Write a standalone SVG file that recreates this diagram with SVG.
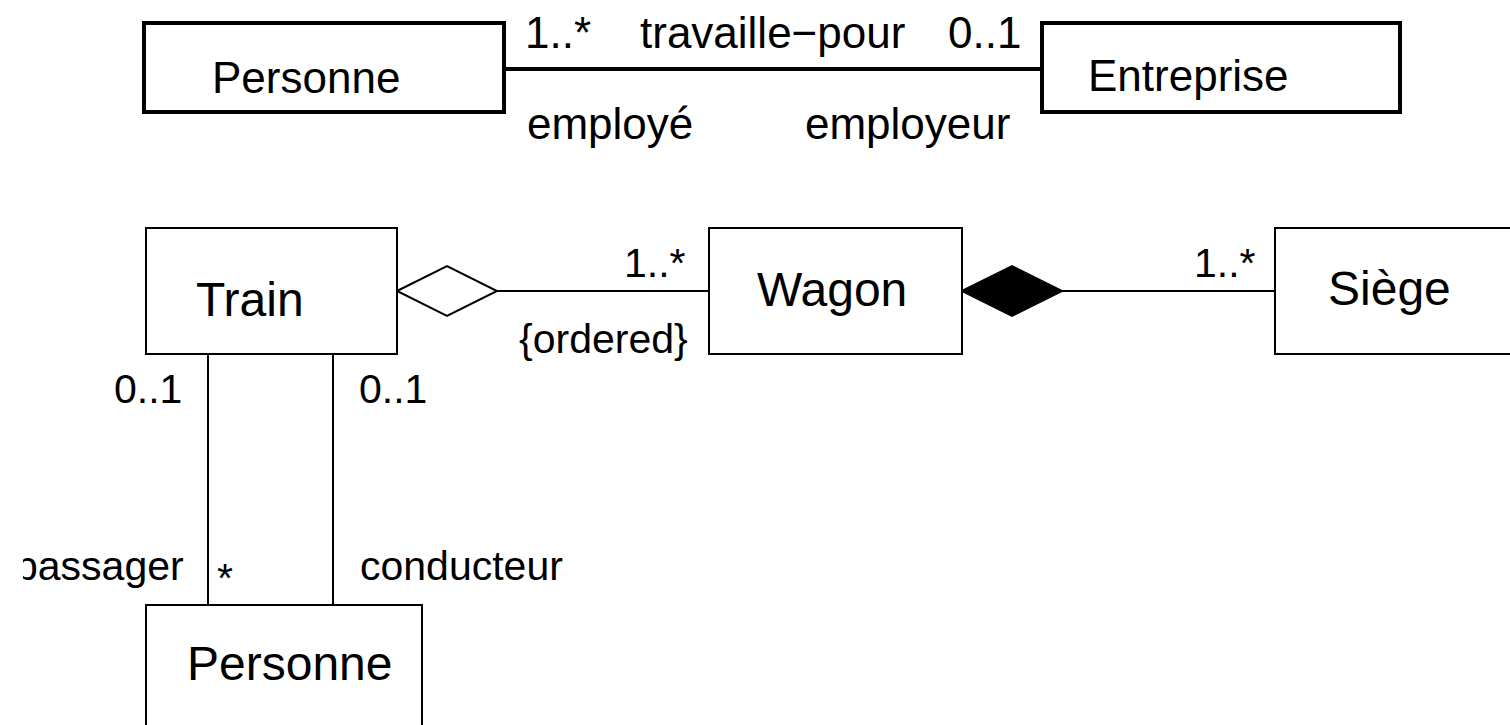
<svg xmlns="http://www.w3.org/2000/svg" width="1510" height="725" viewBox="0 0 1510 725">
  <style>
    text { font-family: "Liberation Sans", Arial, sans-serif; fill: #000; }
    .cls-top { font-size: 44px; }
    .lbl-top { font-size: 44px; }
    .cls { font-size: 48px; }
    .lbl { font-size: 41px; }
    .box-thick { fill: #fff; stroke: #000; stroke-width: 4; }
    .box { fill: #fff; stroke: #000; stroke-width: 2; }
    .line-thick { stroke: #000; stroke-width: 4; fill: none; }
    .line { stroke: #000; stroke-width: 2; fill: none; }
  </style>
  <defs>
    <clipPath id="leftclip">
      <rect x="23" y="0" width="1487" height="725"/>
    </clipPath>
  </defs>
  <rect width="1510" height="725" fill="#fff"/>

  <g id="connectors">
    <line class="line-thick" x1="504" y1="69" x2="1042" y2="69"/>
    <line class="line" x1="497" y1="291" x2="708" y2="291"/>
    <polygon points="397,291 447,266 497,291 447,316" fill="#fff" stroke="#000" stroke-width="2"/>
    <line class="line" x1="1062" y1="291" x2="1275" y2="291"/>
    <polygon points="962,291 1012,266 1062,291 1012,316" fill="#000" stroke="#000" stroke-width="2"/>
    <line class="line" x1="208" y1="354" x2="208" y2="605"/>
    <line class="line" x1="333" y1="354" x2="333" y2="605"/>
  </g>

  <g id="labels">
    <text class="lbl-top" x="525" y="48">1..*</text>
    <text class="lbl-top" x="640" y="48">travaille−pour</text>
    <text class="lbl-top" x="948" y="48">0..1</text>
    <text class="lbl-top" x="527" y="139">employé</text>
    <text class="lbl-top" x="805" y="139">employeur</text>
    <text class="lbl" x="624" y="277">1..*</text>
    <text class="lbl" x="519" y="353">{ordered}</text>
    <text class="lbl" x="1194" y="277">1..*</text>
    <text class="lbl" x="114" y="403">0..1</text>
    <text class="lbl" x="359" y="403">0..1</text>
    <text class="lbl" x="15" y="580" clip-path="url(#leftclip)">passager</text>
    <text class="lbl" x="217" y="592">*</text>
    <text class="lbl" x="360" y="580">conducteur</text>
  </g>

  <g id="node-personne-top">
    <rect class="box-thick" x="144" y="23" width="360" height="89"/>
    <text class="cls-top" x="212" y="93">Personne</text>
  </g>
  <g id="node-entreprise">
    <rect class="box-thick" x="1042" y="23" width="358" height="89"/>
    <text class="cls-top" x="1088" y="91">Entreprise</text>
  </g>
  <g id="node-train">
    <rect class="box" x="146" y="228" width="251" height="126"/>
    <text class="cls" x="196" y="316">Train</text>
  </g>
  <g id="node-wagon">
    <rect class="box" x="709" y="228" width="253" height="126"/>
    <text class="cls" x="757" y="306">Wagon</text>
  </g>
  <g id="node-siege">
    <rect class="box" x="1275" y="228" width="260" height="126"/>
    <text class="cls" x="1328" y="305">Siège</text>
  </g>
  <g id="node-personne-bottom">
    <rect class="box" x="146" y="605" width="276" height="140"/>
    <text class="cls" x="187" y="680">Personne</text>
  </g>
</svg>
